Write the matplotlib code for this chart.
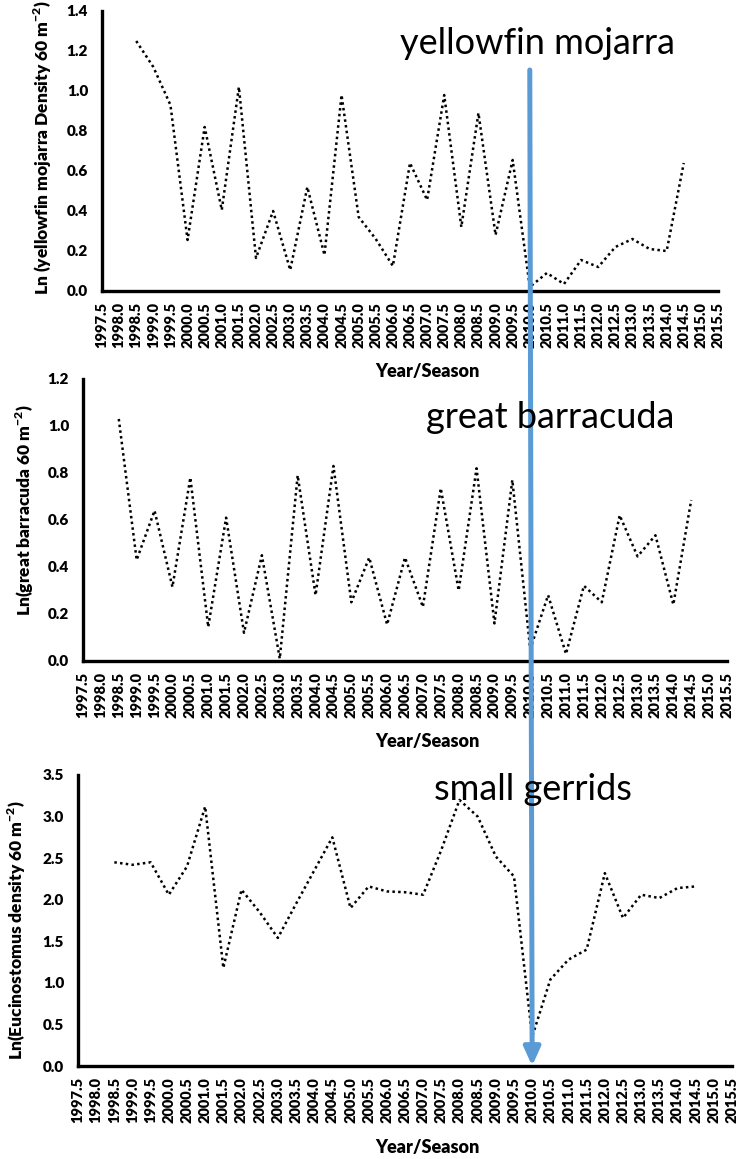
import numpy as np
import matplotlib
matplotlib.use("Agg")
import matplotlib.pyplot as plt
from matplotlib.patches import ConnectionPatch

plt.rcParams["font.family"] = ["Lato", "DejaVu Sans"]
plt.rcParams["mathtext.fontset"] = "custom"
plt.rcParams["mathtext.rm"] = "Lato"
plt.rcParams["mathtext.bf"] = "Lato:heavy"

# sampling seasons (wet/dry), half-year steps
seasons = np.arange(1998.5, 2014.51, 0.5)
tick_pos = np.arange(1997.5, 2015.51, 0.5)
tick_lab = [f"{t:.1f}" for t in tick_pos]

mojarra = [1.25, 1.12, 0.93, 0.255, 0.82, 0.405, 1.02, 0.165, 0.40, 0.105, 0.52,
           0.18, 0.98, 0.37, 0.26, 0.125, 0.64, 0.455, 0.98, 0.32, 0.89, 0.28,
           0.655, 0.02, 0.09, 0.035, 0.155, 0.12, 0.22, 0.26, 0.21, 0.20, 0.64]
barracuda = [1.03, 0.43, 0.64, 0.315, 0.78, 0.145, 0.61, 0.12, 0.45, 0.01, 0.79,
             0.28, 0.83, 0.25, 0.44, 0.155, 0.44, 0.23, 0.735, 0.30, 0.82, 0.16,
             0.77, 0.05, 0.28, 0.03, 0.32, 0.25, 0.62, 0.445, 0.535, 0.24, 0.685]
gerrids = [2.45, 2.42, 2.45, 2.06, 2.40, 3.12, 1.18, 2.12, 1.85, 1.54, 1.95,
           2.35, 2.75, 1.90, 2.16, 2.10, 2.09, 2.06, 2.60, 3.20, 3.00, 2.52,
           2.28, 0.35, 1.04, 1.28, 1.40, 2.32, 1.78, 2.06, 2.02, 2.14, 2.16]

W, H = 750, 1159
fig = plt.figure(figsize=(W / 100, H / 100), dpi=100)


def px_axes(left, right, top, bottom):
    return fig.add_axes([left / W, 1 - bottom / H, (right - left) / W, (bottom - top) / H])


ax1 = px_axes(102, 718, 11, 291)
ax2 = px_axes(83, 727, 379, 661)
ax3 = px_axes(78, 732, 775, 1066)

panels = [
    (ax1, mojarra, 1.4, 0.2, r"Ln (yellowfin mojarra Density 60 m$^{\mathbf{-2}}$)",
     "yellowfin mojarra", (538, 43), (43, 148)),
    (ax2, barracuda, 1.2, 0.2, r"Ln(great barracuda 60 m$^{\mathbf{-2}}$)",
     "great barracuda", (550, 417), (25, 510)),
    (ax3, gerrids, 3.5, 0.5, r"Ln(Eucinostomus density 60 m$^{\mathbf{-2}}$)",
     "small gerrids", (533, 790), (17, 930)),
]

for ax, vals, ymax, ystep, ylab, title, tpos, ylpos in panels:
    ax.plot(seasons, vals, color="black", lw=1.8, linestyle=(0, (1, 1.3)))
    ax.set_xlim(1997.5, 2015.5)
    ax.set_ylim(0, ymax)
    ax.set_xticks(tick_pos)
    ax.set_xticklabels(tick_lab, rotation=90, fontweight="heavy", fontsize=10.5)
    yt = np.arange(0, ymax + 1e-9, ystep)
    ax.set_yticks(yt)
    ax.set_yticklabels([f"{v:.1f}" for v in yt], fontweight="heavy", fontsize=11)
    ax.tick_params(axis="both", length=0)
    ax.tick_params(axis="x", pad=8)
    ax.tick_params(axis="y", pad=10)
    for s in ["top", "right"]:
        ax.spines[s].set_visible(False)
    for s in ["left", "bottom"]:
        ax.spines[s].set_linewidth(2.4)
    ax.set_facecolor("none")
    fig.text(tpos[0] / W, 1 - tpos[1] / H, title, fontsize=26, ha="center", va="center")
    fig.text(ylpos[0] / W, 1 - ylpos[1] / H, ylab, fontsize=12.5, fontweight="heavy",
             rotation=90, ha="center", va="center")

for y in [371, 741, 1148]:
    fig.text(427 / W, 1 - y / H, "Year/Season", fontsize=13, fontweight="heavy",
             ha="center", va="center")

# 2010 marker running through all three panels
arrow = ConnectionPatch(xyA=(2010.0, 1.105), coordsA=ax1.transData,
                        xyB=(2010.0, 0.0), coordsB=ax3.transData,
                        arrowstyle="-|>,head_length=1.0,head_width=0.45",
                        mutation_scale=11, color="#5B9BD5", lw=3.6,
                        shrinkA=0, shrinkB=0)
fig.add_artist(arrow)

fig.savefig("out.png", dpi=100)
